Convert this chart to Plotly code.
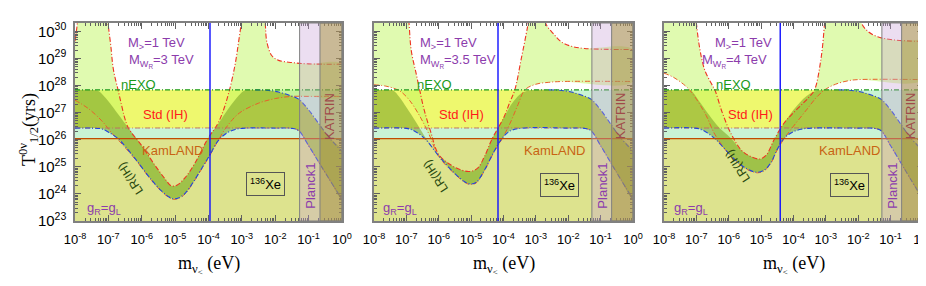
import plotly.graph_objects as go

# ---------------- data (log10 values) ----------------
m_range_exp = [-8, 0]
T_range_exp = [23, 30.31]
m_tick_exp = [-8, -7, -6, -5, -4, -3, -2, -1, 0]
T_tick_exp = [23, 24, 25, 26, 27, 28, 29, 30]

kamland_exp = 26.04
nexo_exp = 27.84
planck_exp = -1.27
katrin_exp = -0.66
m_max_exp = 0.0
vline_exp = [-3.955, -4.17, -4.41]
mwr_labels = ["3", "3.5", "4"]

# Standard (IH) band
std_up_x = [-8, -2.6, -2.2, -1.9, -1.6, -1.3, -1.0, -0.7, -0.4, 0]
std_up_y = [27.84, 27.84, 27.82, 27.76, 27.65, 27.5, 27.1, 26.6, 26.1, 25.57]
std_lo_x = [-8, -2.0, -1.5, -1.3, -1.0, -0.7, -0.4, 0]
std_lo_y = [26.43, 26.43, 26.42, 26.34, 25.78, 25.18, 24.58, 23.8]

# Panel 1 (M_WR = 3 TeV)
p1_ih_up_x = [-8, -7.5, -7.3, -7.0, -6.7, -6.4, -6.0, -5.6, -5.3, -5.12, -4.95, -4.7, -4.4, -4.02, -3.7, -3.4, -3.1, -2.92, -2.6, -2.2, -1.9, -1.6, -1.3, -1.0, -0.7, -0.4, 0]
p1_ih_up_y = [27.84, 27.84, 27.8, 27.42, 26.93, 26.43, 25.78, 25.05, 24.55, 24.3, 24.32, 24.6, 25.15, 26.04, 26.6, 27.15, 27.62, 27.82, 27.84, 27.82, 27.76, 27.65, 27.5, 27.1, 26.6, 26.1, 25.57]
p1_ih_lo_x = [-8, -7.5, -7.2, -7.0, -6.71, -6.21, -5.71, -5.4, -5.2, -5.06, -4.9, -4.7, -4.45, -4.2, -3.955, -3.72, -3.45, -3.2, -2.9, -2.0, -1.5, -1.3, -1.0, -0.7, -0.4, 0]
p1_ih_lo_y = [26.43, 26.43, 26.40, 26.28, 26.04, 25.32, 24.52, 24.1, 23.9, 23.82, 23.85, 24.02, 24.45, 24.95, 25.45, 25.95, 26.25, 26.38, 26.43, 26.43, 26.42, 26.34, 25.78, 25.18, 24.58, 23.8]
p1_nh_hi_x = [-8, -7.97, -7.93, -7.9, -7.05, -7.01, -6.93, -6.85, -6.71, -6.6, -6.51, -6.4, -6.0, -5.6, -5.3, -5.12, -4.95, -4.7, -4.4, -4.02, -3.72, -3.55, -3.37, -3.2, -3.1, -3.02, -2.98, -2.35, -2.3, -2.25, -2.1, -1.9, -1.5, -1.0, 0]
p1_nh_hi_y = [29.64, 29.9, 30.31, 31, 31, 30.31, 29.5, 28.6, 27.84, 27.25, 26.8, 26.43, 25.78, 25.05, 24.55, 24.3, 24.32, 24.6, 25.15, 26.04, 26.6, 27.1, 27.84, 28.8, 29.6, 30.31, 31, 31, 30.31, 29.6, 29.1, 28.93, 28.85, 28.8, 28.79]
p1_nh_lo_x = [-8, -7.6, -7.2, -6.9, -6.71, -6.21, -5.71, -5.4, -5.2, -5.06, -4.9, -4.7, -4.45, -4.2, -3.955, -3.72, -3.5, -3.2, -3.0, -2.5, -2.0, -1.5, -1.0, 0]
p1_nh_lo_y = [27.46, 27.15, 26.7, 26.25, 26.0, 25.3, 24.5, 24.08, 23.88, 23.8, 23.83, 24.0, 24.43, 24.93, 25.43, 25.95, 26.4, 26.85, 27.05, 27.35, 27.52, 27.6, 27.6, 27.6]

# Panel 2 (M_WR = 3.5 TeV)
p2_ih_up_x = [-8, -7.6, -7.41, -7.2, -7.0, -6.7, -6.33, -6.0, -5.6, -5.3, -5.04, -4.8, -4.6, -4.35, -4.0, -3.7, -3.4, -3.1, -2.6, -2.2, -1.9, -1.6, -1.3, -1.0, -0.7, -0.4, 0]
p2_ih_up_y = [27.84, 27.84, 27.82, 27.55, 27.2, 26.65, 25.94, 25.45, 25.05, 24.88, 24.83, 24.95, 25.35, 26.04, 26.8, 27.4, 27.75, 27.84, 27.84, 27.82, 27.76, 27.65, 27.5, 27.1, 26.6, 26.1, 25.57]
p2_ih_lo_x = [-8, -7.0, -6.8, -6.43, -6.0, -5.5, -5.2, -5.04, -4.85, -4.6, -4.3, -4.05, -3.8, -3.4, -2.0, -1.5, -1.3, -1.0, -0.7, -0.4, 0]
p2_ih_lo_y = [26.43, 26.42, 26.35, 26.04, 25.4, 24.75, 24.45, 24.37, 24.42, 24.85, 25.55, 26.04, 26.32, 26.43, 26.43, 26.42, 26.34, 25.78, 25.18, 24.58, 23.8]
p2_nh_hi_x = [-8, -6.98, -6.92, -6.85, -6.69, -6.59, -6.45, -6.25, -6.0, -5.6, -5.3, -5.04, -4.8, -4.6, -4.35, -4.0, -3.8, -3.65, -3.45, -3.3, -3.24, -3.2, -2.75, -2.7, -2.45, -2.2, -1.9, -1.5, 0]
p2_nh_hi_y = [31, 31, 30.31, 29.3, 28.4, 27.84, 27.1, 26.3, 25.45, 25.05, 24.88, 24.83, 24.95, 25.35, 26.04, 26.8, 27.4, 27.84, 29.0, 29.9, 30.31, 31, 31, 30.31, 29.9, 29.6, 29.45, 29.37, 29.33]
p2_nh_lo_x = [-8, -7.6, -7.2, -6.9, -6.6, -6.3, -6.0, -5.5, -5.2, -5.04, -4.85, -4.6, -4.3, -4.05, -3.8, -3.55, -3.34, -3.0, -2.6, -2.2, 0]
p2_nh_lo_y = [28.03, 27.97, 27.8, 27.45, 26.9, 26.2, 25.38, 24.73, 24.43, 24.35, 24.4, 24.83, 25.53, 26.02, 26.6, 27.3, 27.84, 28.05, 28.12, 28.15, 28.15]

# Panel 3 (M_WR = 4 TeV)
p3_ih_up_x = [-8, -7.4, -7.16, -6.9, -6.6, -6.3, -5.92, -5.6, -5.3, -5.04, -4.85, -4.6, -4.3, -3.9, -3.5, -3.14, -2.6, -2.2, -1.9, -1.6, -1.3, -1.0, -0.7, -0.4, 0]
p3_ih_up_y = [27.84, 27.84, 27.8, 27.4, 26.9, 26.45, 26.04, 25.6, 25.37, 25.29, 25.42, 26.0, 26.6, 27.25, 27.7, 27.84, 27.84, 27.82, 27.76, 27.65, 27.5, 27.1, 26.6, 26.1, 25.57]
p3_ih_lo_x = [-8, -7.05, -6.8, -6.43, -6.0, -5.6, -5.3, -5.1, -4.9, -4.7, -4.5, -4.3, -4.0, -3.7, -3.45, -2.0, -1.5, -1.3, -1.0, -0.7, -0.4, 0]
p3_ih_lo_y = [26.43, 26.43, 26.35, 26.04, 25.5, 25.05, 24.85, 24.8, 24.88, 25.15, 25.65, 26.04, 26.3, 26.4, 26.43, 26.43, 26.42, 26.34, 25.78, 25.18, 24.58, 23.8]
p3_nh_hi_x = [-8, -7.05, -7.0, -6.9, -6.75, -6.55, -6.43, -6.2, -5.92, -5.6, -5.3, -5.04, -4.85, -4.6, -4.3, -4.0, -3.7, -3.5, -3.35, -3.15, -3.04, -3.0, -1.95, -1.9, -1.7, -1.4, -1.0, -0.5, 0]
p3_nh_hi_y = [31, 31, 30.31, 29.4, 28.6, 28.1, 27.84, 27.0, 26.2, 25.6, 25.37, 25.29, 25.42, 26.0, 26.6, 27.0, 27.35, 27.6, 27.84, 29.0, 30.31, 31, 31, 30.31, 30.0, 29.8, 29.7, 29.65, 29.63]
p3_nh_lo_x = [-8, -7.7, -7.4, -7.21, -7.0, -6.7, -6.43, -6.0, -5.6, -5.3, -5.1, -4.9, -4.7, -4.5, -4.3, -4.0, -3.6, -3.3, -3.04, -2.7, -2.3, -2.0, 0]
p3_nh_lo_y = [28.46, 28.3, 28.05, 27.84, 27.5, 26.9, 26.2, 25.48, 25.03, 24.83, 24.78, 24.86, 25.13, 25.63, 26.02, 26.5, 27.1, 27.55, 27.84, 28.05, 28.18, 28.22, 28.22]

panels = [
    dict(ih_up=(p1_ih_up_x, p1_ih_up_y), ih_lo=(p1_ih_lo_x, p1_ih_lo_y),
         nh_hi=(p1_nh_hi_x, p1_nh_hi_y), nh_lo=(p1_nh_lo_x, p1_nh_lo_y)),
    dict(ih_up=(p2_ih_up_x, p2_ih_up_y), ih_lo=(p2_ih_lo_x, p2_ih_lo_y),
         nh_hi=(p2_nh_hi_x, p2_nh_hi_y), nh_lo=(p2_nh_lo_x, p2_nh_lo_y)),
    dict(ih_up=(p3_ih_up_x, p3_ih_up_y), ih_lo=(p3_ih_lo_x, p3_ih_lo_y),
         nh_hi=(p3_nh_hi_x, p3_nh_hi_y), nh_lo=(p3_nh_lo_x, p3_nh_lo_y)),
]

# label positions (log10 coordinates) per panel: (x, y)
lab_m1 = [(-5.57, 29.57), (-5.71, 29.57), (-5.56, 29.57)]
lab_m2 = [(-5.42, 28.9), (-5.41, 28.9), (-5.82, 28.9)]
lab_nexo = [(-6.11, 28.03), (-6.13, 28.03), (-5.84, 28.03)]
lab_std = [(-5.30, 26.92), (-5.30, 26.92), (-5.32, 26.92)]
lab_kam = [(-5.09, 25.62), (-2.42, 25.62), (-2.26, 25.62)]
lab_lr = [(-6.34, 24.56), (-6.08, 24.65), (-5.71, 25.02)]
lab_g = [(-7.13, 23.48), (-7.21, 23.48), (-7.16, 23.48)]
lab_xe = [(-2.28, 24.35), (-2.26, 24.34), (-2.26, 24.34)]
lab_planck = [(-0.97, 24.29), (-0.97, 24.29), (-0.97, 24.29)]
lab_katrin = [(-0.36, 26.88), (-0.36, 26.88), (-0.36, 26.88)]

# ---------------- figure ----------------
W, H = 926, 286
X_DOM = [(67 / W, 334 / W), (366 / W, 625 / W), (656 / W, 915 / W)]
Y_DOM = (1 - 213 / H, 1 - 15 / H)


def E(a):
    return [10.0 ** float(v) for v in a]


def P(v):
    return 10.0 ** float(v)


C_MINT = "#c9f3d4"
C_YELLOW = "#eef86e"
C_EXCL = "rgba(193,204,50,0.55)"
C_NH = "rgba(193,245,97,0.5)"
C_IH = "rgba(120,160,35,0.55)"
C_PLANCK = "rgba(200,160,215,0.35)"
C_KATRIN = "rgba(160,140,40,0.45)"
RED = "#ee3322"
ORANGE = "#e8602a"
BLUE = "#2244dd"
GREEN = "#1a9a1a"
PURPLE = "#8c3cac"
DASH = "5px,2px,1px,2px"
SANS = "Liberation Sans, Arial, sans-serif"
SERIF = "Liberation Serif, Times New Roman, serif"

fig = go.Figure()

for i, p in enumerate(panels):
    xa = "x" if i == 0 else f"x{i+1}"
    ya = "y" if i == 0 else f"y{i+1}"
    common = dict(xaxis=xa, yaxis=ya, hoverinfo="skip", showlegend=False)

    # background shapes (below traces)
    fig.add_shape(type="rect", xref=f"{xa} domain", yref=ya, x0=0, x1=1,
                  y0=P(T_range_exp[0]), y1=P(kamland_exp),
                  fillcolor=C_EXCL, line_width=0, layer="below")
    fig.add_shape(type="rect", xref=f"{xa} domain", yref=ya, x0=0, x1=1,
                  y0=P(kamland_exp), y1=P(nexo_exp),
                  fillcolor=C_MINT, line_width=0, layer="below")

    # Std (IH) band
    fig.add_trace(go.Scatter(x=E(std_up_x + std_lo_x[::-1]), y=E(std_up_y + std_lo_y[::-1]),
                             fill="toself", fillcolor=C_YELLOW, mode="none",
                             line_shape="spline", **common))
    # LR (NH) band
    hx, hy = p["nh_hi"]
    lx, ly = p["nh_lo"]
    fig.add_trace(go.Scatter(x=E(hx + lx[::-1]), y=E(hy + ly[::-1]), fill="toself",
                             fillcolor=C_NH, mode="none", line_shape="spline", **common))
    # LR (IH) band
    ux, uy = p["ih_up"]
    dx, dy = p["ih_lo"]
    fig.add_trace(go.Scatter(x=E(ux + dx[::-1]), y=E(uy + dy[::-1]), fill="toself",
                             fillcolor=C_IH, mode="none", line_shape="spline", **common))

    # boundary lines
    fig.add_trace(go.Scatter(x=E(lx), y=E(ly), mode="lines", line_shape="spline",
                             line=dict(color=ORANGE, width=1, dash=DASH), **common))
    fig.add_trace(go.Scatter(x=E(hx), y=E(hy), mode="lines", line_shape="spline",
                             line=dict(color=RED, width=1.1, dash=DASH), **common))
    fig.add_trace(go.Scatter(x=E(std_lo_x), y=E(std_lo_y), mode="lines", line_shape="spline",
                             line=dict(color="#c07060", width=1, dash=DASH), **common))
    fig.add_trace(go.Scatter(x=E(dx), y=E(dy), mode="lines", line_shape="spline",
                             line=dict(color=BLUE, width=1.1, dash=DASH), **common))
    kx = [x for x in ux if x >= -2.6]
    ky = uy[len(ux) - len(kx):]
    fig.add_trace(go.Scatter(x=E(kx), y=E(ky), mode="lines", line_shape="spline",
                             line=dict(color=BLUE, width=1.1, dash=DASH), **common))

    # horizontal / vertical lines and regions (above traces)
    fig.add_shape(type="line", xref=f"{xa} domain", yref=ya, x0=0, x1=1,
                  y0=P(kamland_exp), y1=P(kamland_exp),
                  line=dict(color="#c04a00", width=1.2), layer="above")
    fig.add_shape(type="line", xref=f"{xa} domain", yref=ya, x0=0, x1=1,
                  y0=P(nexo_exp), y1=P(nexo_exp),
                  line=dict(color=GREEN, width=1.4, dash=DASH), layer="above")
    fig.add_shape(type="rect", xref=xa, yref=f"{ya} domain", x0=P(planck_exp),
                  x1=P(m_max_exp), y0=0, y1=1, fillcolor=C_PLANCK,
                  line=dict(color="#808080", width=1), layer="above")
    fig.add_shape(type="rect", xref=xa, yref=f"{ya} domain", x0=P(katrin_exp),
                  x1=P(m_max_exp), y0=0, y1=1, fillcolor=C_KATRIN,
                  line=dict(color="#808080", width=1), layer="above")
    fig.add_shape(type="line", xref=xa, yref=f"{ya} domain", x0=P(vline_exp[i]),
                  x1=P(vline_exp[i]), y0=0, y1=1,
                  line=dict(color="#1010ff", width=1.4), layer="above")

    def ann(pos, text, color, size=12, **kw):
        fig.add_annotation(x=pos[0], y=pos[1], xref=xa, yref=ya, text=text,
                           xanchor="center", yanchor="middle",
                           showarrow=False, font=dict(family=SANS, size=size, color=color), **kw)

    ann(lab_m1[i], "M<sub>></sub>=1 TeV", PURPLE, size=13)
    ann(lab_m2[i], f"M<sub>W<sub>R</sub></sub>={mwr_labels[i]} TeV", PURPLE, size=13)
    ann(lab_nexo[i], "nEXO", GREEN, size=13)
    ann(lab_std[i], "Std (IH)", "#ff1a1a", size=13)
    ann(lab_kam[i], "KamLAND", "#c86414", size=13)
    ann(lab_lr[i], "LR(IH)", "#2a4a10", textangle=-123)
    ann(lab_g[i], "g<sub>R</sub>=g<sub>L</sub>", PURPLE, size=13)
    ann(lab_xe[i], "<sup>136</sup>Xe", "black", size=13, bordercolor="#555555",
        borderwidth=1, borderpad=3)
    ann(lab_planck[i], "Planck1", PURPLE, size=13, textangle=-90)
    ann(lab_katrin[i], "KATRIN", "#a04a4a", size=13, textangle=-90)

    # x-axis title
    fig.add_annotation(x=0.5, y=1 - 257 / H, xref=f"{xa} domain", yref="paper",
                       xanchor="center", yanchor="middle",
                       text="m<sub>ν<sub>&lt;</sub></sub> (eV)", showarrow=False,
                       font=dict(family=SERIF, size=18, color="black"))

fig.add_annotation(x=20 / W, y=1 - 122 / H, xref="paper", yref="paper", textangle=-90,
                   xanchor="center", yanchor="middle",
                   text="T<sup>0ν</sup><sub>1/2</sub>(yrs)", showarrow=False,
                   font=dict(family=SERIF, size=18, color="black"))

axis_common = dict(showline=True, linecolor="#808080", linewidth=1.5, mirror="ticks",
                   ticks="inside", ticklen=6, tickcolor="#606060", tickwidth=1,
                   showgrid=False, zeroline=False, type="log", automargin=False,
                   minor=dict(ticks="inside", ticklen=3, tickcolor="#606060", dtick="D1",
                              showgrid=False))
layout = dict(width=W, height=H, margin=dict(l=0, r=0, t=0, b=0, autoexpand=False),
              paper_bgcolor="white", plot_bgcolor="white", showlegend=False)
for i in range(3):
    xk = "xaxis" if i == 0 else f"xaxis{i+1}"
    yk = "yaxis" if i == 0 else f"yaxis{i+1}"
    xa = "x" if i == 0 else f"x{i+1}"
    ya = "y" if i == 0 else f"y{i+1}"
    layout[xk] = dict(axis_common, domain=X_DOM[i], anchor=ya, range=m_range_exp,
                      tickvals=E(m_tick_exp),
                      ticktext=[f"10<sup>{e}</sup>" for e in m_tick_exp],
                      tickfont=dict(family=SANS, size=13, color="black"),
                      ticklabelstandoff=6)
    layout[yk] = dict(axis_common, domain=Y_DOM, anchor=xa, range=T_range_exp,
                      tickvals=E(T_tick_exp),
                      ticktext=[f"10<sup>{e}</sup>" for e in T_tick_exp],
                      tickfont=dict(family=SANS, size=15, color="black"),
                      ticklabelstandoff=4,
                      showticklabels=(i == 0))
fig.update_layout(**layout)

fig.write_html("out.html")
